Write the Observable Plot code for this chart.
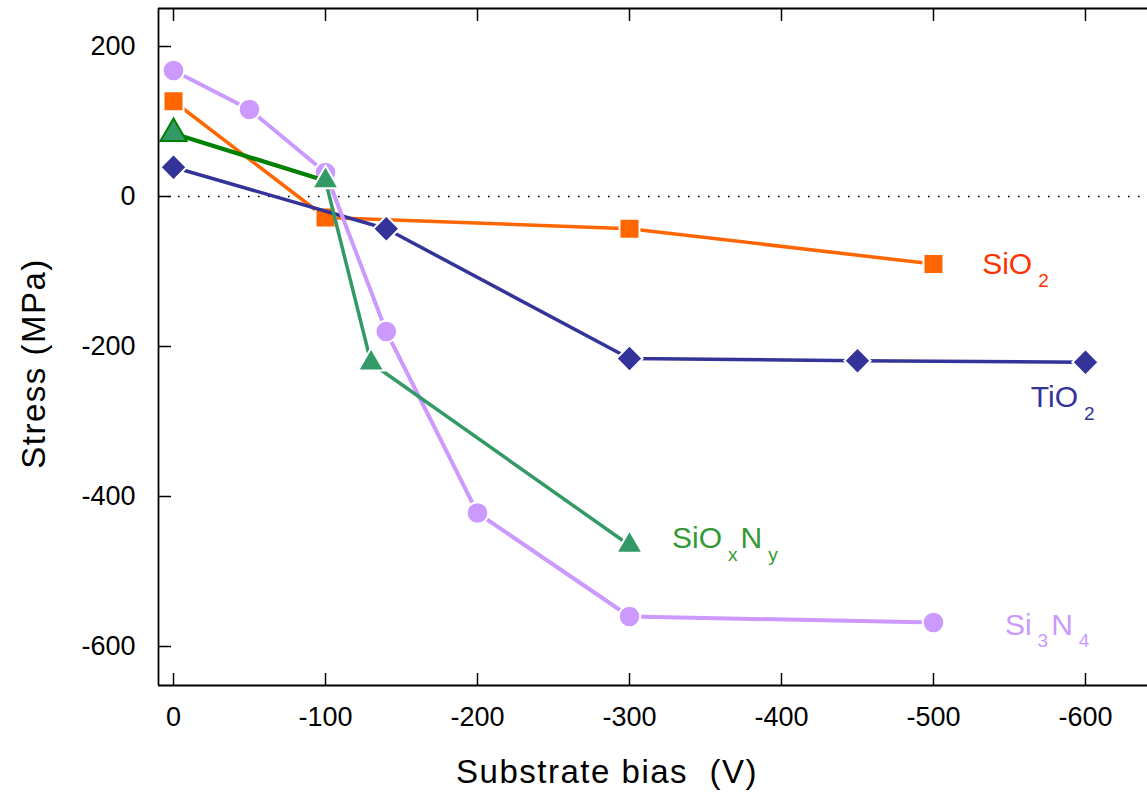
<!DOCTYPE html>
<html>
<head>
<meta charset="utf-8">
<script src="https://cdn.jsdelivr.net/npm/d3@7"></script>
<script src="https://cdn.jsdelivr.net/npm/@observablehq/plot@0.6"></script>
<style>
  body { margin: 0; background: #fff; }
  svg { font-family: "Liberation Sans", Arial, Helvetica, sans-serif; }
</style>
</head>
<body>
<div id="chart"></div>
<script>
// ---- data ----
const biasSiO2 = [0, -100, -300, -500];
const stressSiO2 = [127, -28, -43, -90];

const biasTiO2 = [0, -140, -300, -450, -600];
const stressTiO2 = [39, -43, -216, -219, -221];

const biasSiOxNy = [0, -100, -130, -300];
const stressSiOxNy = [84, 21, -222, -465];

const biasSi3N4 = [0, -50, -100, -140, -200, -300, -500];
const stressSi3N4 = [168, 116, 32, -180, -422, -560, -568];

const xTicks = [0, -100, -200, -300, -400, -500, -600];
const yTicks = [200, 0, -200, -400, -600];

const labelText = ["SiO_2", "TiO_2", "SiO_xN_y", "Si_3N_4"];
const labelBias = [-532, -564, -328, -547];
const labelStress = [-103, -281, -469, -584];
const labelColor = ["#FF3300", "#333399", "#339933", "#CC99FF"];

const xTitle = "Substrate bias\u00A0 (V)";
const yTitle = "Stress (MPa)";

// ---- build tables ----
const rows = (xs, ys) => xs.map((x, i) => ({bias: x, stress: ys[i], i}));
const dSiO2 = rows(biasSiO2, stressSiO2);
const dTiO2 = rows(biasTiO2, stressTiO2);
const dSiOxNy = rows(biasSiOxNy, stressSiOxNy);
const dSi3N4 = rows(biasSi3N4, stressSi3N4);
const labels = labelText.map((t, i) => ({t, bias: labelBias[i], stress: labelStress[i], c: labelColor[i]}));

const xDomain = [9.87, -640.8];
const yDomain = [-652, 250.67];

const C = {
  SiO2: "#FF6600",
  TiO2: "#333399",
  SiOxNyA: "#008000",
  SiOxNy: "#339966",
  Si3N4: "#CC99FF"
};

const chart = Plot.plot({
  width: 1147,
  height: 794,
  marginLeft: 158,
  marginRight: 0,
  marginTop: 8,
  marginBottom: 109,
  style: {background: "white", color: "black", fontFamily: '"Liberation Sans", Arial, sans-serif'},
  x: {domain: xDomain, label: null},
  y: {domain: yDomain, label: null},
  marks: [
    // zero reference line
    Plot.ruleY([0], {stroke: "black", strokeWidth: 1.6, strokeDasharray: "1.6,8.4"}),

    // SiO2
    Plot.line(dSiO2, {x: "bias", y: "stress", stroke: C.SiO2, strokeWidth: 3.5}),
    Plot.dot(dSiO2, {x: "bias", y: "stress", symbol: "square", r: 11.3, fill: C.SiO2, stroke: "white", strokeWidth: 2}),

    // TiO2
    Plot.line(dTiO2, {x: "bias", y: "stress", stroke: C.TiO2, strokeWidth: 3.5}),
    Plot.dot(dTiO2, {x: "bias", y: "stress", symbol: "diamond2", r: 11.8, fill: C.TiO2, stroke: "white", strokeWidth: 2}),

    // Si3N4
    Plot.line(dSi3N4, {x: "bias", y: "stress", stroke: C.Si3N4, strokeWidth: 4}),
    Plot.dot(dSi3N4, {x: "bias", y: "stress", symbol: "circle", r: 10.8, fill: C.Si3N4, stroke: "white", strokeWidth: 2}),

    // SiOxNy
    Plot.line(dSiOxNy.slice(0, 2), {x: "bias", y: "stress", stroke: C.SiOxNyA, strokeWidth: 4.3}),
    Plot.line(dSiOxNy.slice(1), {x: "bias", y: "stress", stroke: C.SiOxNy, strokeWidth: 3.5}),
    Plot.dot(dSiOxNy, {x: "bias", y: "stress", symbol: "triangle", r: 9.7, fill: C.SiOxNy,
      stroke: d => d.i === 0 ? C.SiOxNyA : "white", strokeWidth: 2}),

    // series labels
    Plot.text(labels, {x: "bias", y: "stress", text: "t", fill: "c", fontSize: 30, textAnchor: "start",
      lineAnchor: "middle", dy: -9.6, className: "series-label"}),

    // axes (inward ticks + labels)
    Plot.axisX(xTicks, {anchor: "bottom", tickSize: -12, strokeWidth: 1.5, tickFormat: () => "", label: null}),
    Plot.axisX(xTicks, {anchor: "top", tickSize: -12, strokeWidth: 1.5, tickFormat: () => "", label: null}),
    Plot.axisX(xTicks, {anchor: "bottom", tickSize: 0, tickPadding: 21, fontSize: 27, tickFormat: d => String(d), label: null}),
    Plot.axisY(yTicks, {anchor: "left", tickSize: -13, strokeWidth: 1.5, tickFormat: () => "", label: null}),
    Plot.axisY(yTicks, {anchor: "left", tickSize: 0, tickPadding: 23, fontSize: 27, tickFormat: d => String(d), label: null}),

    // frame (left, top, bottom)
    Plot.ruleX([xDomain[0]], {stroke: "black", strokeWidth: 1.8}),
    Plot.ruleY([yDomain[0], yDomain[1]], {stroke: "black", strokeWidth: 1.8}),

    // axis titles
    Plot.text([xTitle], {frameAnchor: "bottom", textAnchor: "middle", lineAnchor: "middle",
      dx: -46, dy: 86.5, fontSize: 33, className: "axis-title"}),
    Plot.text([yTitle], {frameAnchor: "left", textAnchor: "middle", lineAnchor: "middle", rotate: -90,
      dx: -124, dy: 16.5, fontSize: 33, className: "axis-title"})
  ]
});

// subscripts in the series labels
d3.select(chart).selectAll("g.series-label text").each(function () {
  const t = d3.select(this);
  const s = t.text();
  t.text(null);
  const parts = s.split(/(_.)/).filter(p => p.length);
  let lowered = false;
  parts.forEach(p => {
    if (p.startsWith("_")) {
      t.append("tspan").attr("dx", 6).attr("dy", 13).attr("font-size", 19).text(p.slice(1));
      lowered = true;
    } else {
      const ts = t.append("tspan").text(p);
      if (lowered) { ts.attr("dx", 3).attr("dy", -13); lowered = false; }
    }
  });
});
d3.select(chart).selectAll("g.axis-title text").attr("letter-spacing", 1.5);

document.getElementById("chart").appendChild(chart);
</script>
</body>
</html>
